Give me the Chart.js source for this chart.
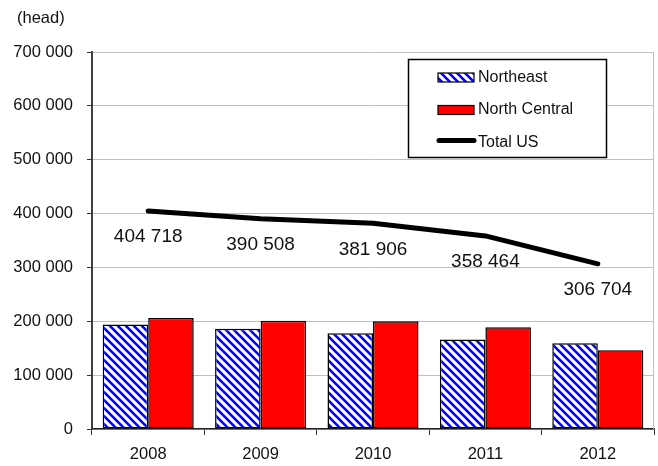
<!DOCTYPE html>
<html>
<head>
<meta charset="utf-8">
<script src="https://cdn.jsdelivr.net/npm/chart.js@4"></script>
<style>
  html, body { margin: 0; padding: 0; background: #fff; }
  #wrap { width: 658px; height: 466px; position: relative; }
</style>
</head>
<body>
<div id="wrap"><canvas id="chart"></canvas></div>
<script>
// data
const years = ["2008", "2009", "2010", "2011", "2012"];
const northeast = [194000, 186000, 178000, 166000, 159000];
const northCentral = [206000, 201000, 200000, 189000, 146000];
const totalUS = [404718, 390508, 381906, 358464, 306704];
const yTicks = [0, 100000, 200000, 300000, 400000, 500000, 600000, 700000];

const textColor = "#111";
const fontFamily = "Arial, 'Liberation Sans', sans-serif";

function fmt(v) {
    return String(v).replace(/\B(?=(\d{3})+(?!\d))/g, " ");
}

// blue diagonal hatch for Northeast
function makeHatch() {
    const c = document.createElement("canvas");
    c.width = 8; c.height = 8;
    const g = c.getContext("2d");
    g.fillStyle = "#fff";
    g.fillRect(0, 0, 8, 8);
    g.strokeStyle = "#0000ff";
    g.lineWidth = 2.6;
    g.beginPath();
    g.moveTo(-2, -2); g.lineTo(10, 10);
    g.moveTo(-2, 6); g.lineTo(2, 10);
    g.moveTo(6, -2); g.lineTo(10, 2);
    g.stroke();
    return g.createPattern(c, "repeat");
}
const hatch = makeHatch();

// value labels under the Total US line
const lineLabels = {
    id: "lineLabels",
    afterDatasetsDraw(chart) {
        const ctx = chart.ctx;
        const meta = chart.getDatasetMeta(2);
        ctx.save();
        ctx.font = "19px " + fontFamily;
        ctx.fillStyle = textColor;
        ctx.textAlign = "center";
        ctx.textBaseline = "middle";
        meta.data.forEach((pt, i) => {
            ctx.fillText(fmt(totalUS[i]), pt.x, pt.y + 26);
        });
        ctx.restore();
    }
};

// unit label, right frame line and boxed legend
const extras = {
    id: "extras",
    beforeDatasetsDraw(chart) {
        const ctx = chart.ctx;
        const a = chart.chartArea;
        ctx.save();
        ctx.strokeStyle = "#bfbfbf";
        ctx.lineWidth = 1;
        ctx.beginPath();
        ctx.moveTo(a.right - 0.5, a.top);
        ctx.lineTo(a.right - 0.5, a.bottom);
        ctx.stroke();
        ctx.restore();
    },
    afterDraw(chart) {
        const ctx = chart.ctx;
        ctx.save();
        ctx.font = "16.5px " + fontFamily;
        ctx.fillStyle = textColor;
        ctx.textBaseline = "middle";
        ctx.fillText("(head)", 17, 18);

        // legend box
        ctx.fillStyle = "#fff";
        ctx.fillRect(408, 59, 199, 99);
        ctx.strokeStyle = "#000";
        ctx.lineWidth = 1.5;
        ctx.strokeRect(408.5, 59.5, 198, 98);

        ctx.fillStyle = hatch;
        ctx.fillRect(438, 73, 36, 9);
        ctx.strokeStyle = "#000";
        ctx.lineWidth = 1.2;
        ctx.strokeRect(438, 73, 36, 9);

        ctx.fillStyle = "#ff0000";
        ctx.fillRect(438, 105.5, 36, 9);
        ctx.strokeRect(438, 105.5, 36, 9);

        ctx.strokeStyle = "#000";
        ctx.lineWidth = 5;
        ctx.lineCap = "round";
        ctx.beginPath();
        ctx.moveTo(439, 140.5);
        ctx.lineTo(474, 140.5);
        ctx.stroke();

        ctx.font = "16px " + fontFamily;
        ctx.fillStyle = textColor;
        ctx.fillText("Northeast", 478, 78);
        ctx.fillText("North Central", 478, 110);
        ctx.fillText("Total US", 478, 143);
        ctx.restore();
    }
};

new Chart(document.getElementById("chart"), {
    data: {
        labels: years,
        datasets: [
            {
                type: "bar", label: "Northeast", data: northeast,
                backgroundColor: hatch, borderColor: "#000", borderWidth: 1.5,
                borderSkipped: false, order: 1
            },
            {
                type: "bar", label: "North Central", data: northCentral,
                backgroundColor: "#ff0000", borderColor: "#000", borderWidth: 1.5,
                borderSkipped: false, order: 1
            },
            {
                type: "line", label: "Total US", data: totalUS,
                borderColor: "#000", borderWidth: 5, pointRadius: 0,
                borderCapStyle: "round", borderJoinStyle: "round",
                tension: 0, fill: false, order: 0
            }
        ]
    },
    options: {
        responsive: true,
        maintainAspectRatio: false,
        animation: false,
        layout: { padding: { top: 52, right: 4, bottom: 0, left: 0 } },
        datasets: { bar: { categoryPercentage: 0.81, barPercentage: 1 } },
        plugins: { legend: { display: false }, tooltip: { enabled: false } },
        scales: {
            x: {
                offset: true,
                grid: { drawOnChartArea: false, drawTicks: true, tickLength: 6, tickColor: "#333", offset: true },
                border: { color: "#222", width: 1.5 },
                ticks: { color: textColor, font: { size: 16.5, family: fontFamily }, padding: 10 },
                afterFit(s) { s.height = 37; }
            },
            y: {
                min: 0, max: 700000,
                afterBuildTicks(s) { s.ticks = yTicks.map(v => ({ value: v })); },
                grid: { color: "#bfbfbf", lineWidth: 1, tickLength: 5, tickColor: "#333" },
                border: { color: "#404040", width: 2 },
                ticks: {
                    color: textColor, font: { size: 16.5, family: fontFamily }, padding: 14,
                    callback: v => fmt(v)
                },
                afterFit(s) { s.width = 92; }
            }
        }
    },
    plugins: [lineLabels, extras]
});
</script>
</body>
</html>
